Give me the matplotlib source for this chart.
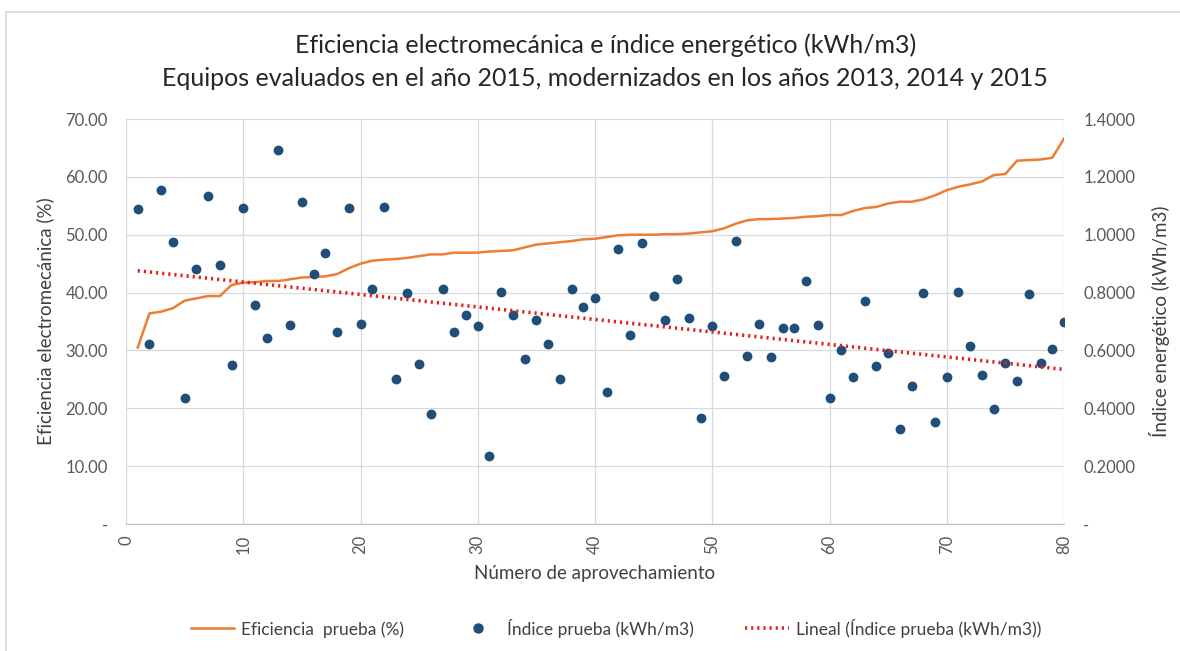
import numpy as np
import matplotlib
matplotlib.use("Agg")
import matplotlib.pyplot as plt
from matplotlib.ticker import FuncFormatter, MultipleLocator
from matplotlib.lines import Line2D
from matplotlib.patches import Rectangle

plt.rcParams['font.family'] = ['Lato', 'DejaVu Sans']

# número de aprovechamiento
equipo = np.arange(1, 81)

# Eficiencia prueba (%)
eficiencia = [30.5, 36.4, 36.7, 37.3, 38.6, 39.0, 39.4, 39.4, 41.3, 41.7,
              41.8, 42.0, 42.0, 42.3, 42.6, 42.7, 42.8, 43.2, 44.2, 45.0,
              45.5, 45.7, 45.8, 46.0, 46.3, 46.6, 46.6, 46.9, 46.9, 46.9,
              47.1, 47.2, 47.3, 47.8, 48.3, 48.5, 48.7, 48.9, 49.2, 49.3,
              49.6, 49.9, 50.0, 50.0, 50.0, 50.1, 50.1, 50.2, 50.4, 50.6,
              51.1, 51.9, 52.5, 52.7, 52.7, 52.8, 52.9, 53.1, 53.2, 53.4,
              53.4, 54.1, 54.6, 54.8, 55.4, 55.7, 55.7, 56.1, 56.8, 57.7,
              58.3, 58.7, 59.2, 60.3, 60.5, 62.8, 62.9, 63.0, 63.3, 66.6]

# Índice prueba (kWh/m3)
indice = [1.089, 0.623, 1.154, 0.974, 0.434, 0.880, 1.134, 0.897, 0.549, 1.094,
          0.758, 0.644, 1.294, 0.687, 1.113, 0.864, 0.937, 0.664, 1.094, 0.691,
          0.811, 1.097, 0.500, 0.799, 0.553, 0.381, 0.811, 0.664, 0.721, 0.684,
          0.234, 0.802, 0.721, 0.570, 0.705, 0.623, 0.500, 0.811, 0.750, 0.782,
          0.455, 0.950, 0.652, 0.971, 0.787, 0.705, 0.847, 0.713, 0.365, 0.685,
          0.512, 0.979, 0.581, 0.692, 0.578, 0.679, 0.676, 0.839, 0.687, 0.435,
          0.600, 0.508, 0.770, 0.546, 0.590, 0.327, 0.476, 0.799, 0.352, 0.508,
          0.802, 0.614, 0.516, 0.397, 0.557, 0.495, 0.794, 0.557, 0.605, 0.700]

gray_txt = '#595959'
grid_c = '#d9d9d9'

fig = plt.figure(figsize=(11.8, 6.51), dpi=100)
# chart frame
fig.patches.append(Rectangle((6 / 1180, -0.1), 1.2, 1 - 12 / 651 + 0.1,
                             transform=fig.transFigure, fill=False,
                             edgecolor='#d9d9d9', lw=1.2))

ax = fig.add_axes([126 / 1180, 1 - 524 / 651, (1064 - 126) / 1180, (524 - 119) / 651])
ax2 = ax.twinx()

ax.plot(equipo, eficiencia, color='#ed7d31', lw=1.8, zorder=3)
ax2.scatter(equipo, indice, s=50, color='#1f4e79', zorder=3, linewidths=0)

# linear trend of the index
coef = np.polyfit(equipo, indice, 1)
ax2.plot(equipo, np.polyval(coef, equipo), color='#e3211c', lw=2.6,
         linestyle=(0, (0.6, 1.1)), zorder=4)

ax.set_xlim(0, 80)
ax.set_ylim(0, 70)
ax2.set_ylim(0, 1.4)
ax.xaxis.set_major_locator(MultipleLocator(10))
ax.yaxis.set_major_locator(MultipleLocator(10))
ax2.yaxis.set_major_locator(MultipleLocator(0.2))
ax.yaxis.set_major_formatter(FuncFormatter(lambda v, p: '-' if abs(v) < 1e-9 else f'{v:.2f}'))
ax2.yaxis.set_major_formatter(FuncFormatter(lambda v, p: '-' if abs(v) < 1e-9 else f'{v:.4f}'))

ax.grid(True, color=grid_c, lw=0.9)
ax.set_axisbelow(True)
for a in (ax, ax2):
    for s in a.spines.values():
        s.set_visible(False)
    a.tick_params(length=0, labelsize=12, colors=gray_txt)
ax.spines['bottom'].set_visible(True)
ax.spines['bottom'].set_color('#bfbfbf')
ax.tick_params(axis='x', rotation=90, pad=8)
ax.tick_params(axis='y', pad=13)
ax2.tick_params(axis='y', pad=14)

ax.set_xlabel('Número de aprovechamiento', fontsize=13.5, color='#404040', labelpad=8)
ax.set_ylabel('Eficiencia electromecánica (%)', fontsize=13.5, color='#404040', labelpad=8)
ax2.set_ylabel('Índice energético (kWh/m3)', fontsize=13.5, color='#404040',
               rotation=90, labelpad=10)

fig.text(0.513, 1 - 45 / 651, 'Eficiencia electromecánica e índice energético (kWh/m3)',
         ha='center', va='center', fontsize=18, color='#262626')
fig.text(0.513, 1 - 78 / 651, 'Equipos evaluados en el año 2015, modernizados en los años 2013, 2014 y 2015',
         ha='center', va='center', fontsize=18, color='#262626')

handles = [Line2D([], [], color='#ed7d31', lw=1.8),
           Line2D([], [], marker='o', color='#1f4e79', lw=0, markersize=6.5),
           Line2D([], [], color='#e3211c', lw=2.6, linestyle=(0, (0.6, 1.1)))]
labels = ['Eficiencia  prueba (%)', 'Índice prueba (kWh/m3)', 'Lineal (Índice prueba (kWh/m3))']
fig.legend(handles, labels, loc='center', bbox_to_anchor=(0.522, 1 - 628 / 651), ncol=3,
           frameon=False, fontsize=12.5, labelcolor='#404040', columnspacing=3.0,
           handlelength=2.5, handletextpad=0.4)

fig.savefig('out.png', dpi=100)
